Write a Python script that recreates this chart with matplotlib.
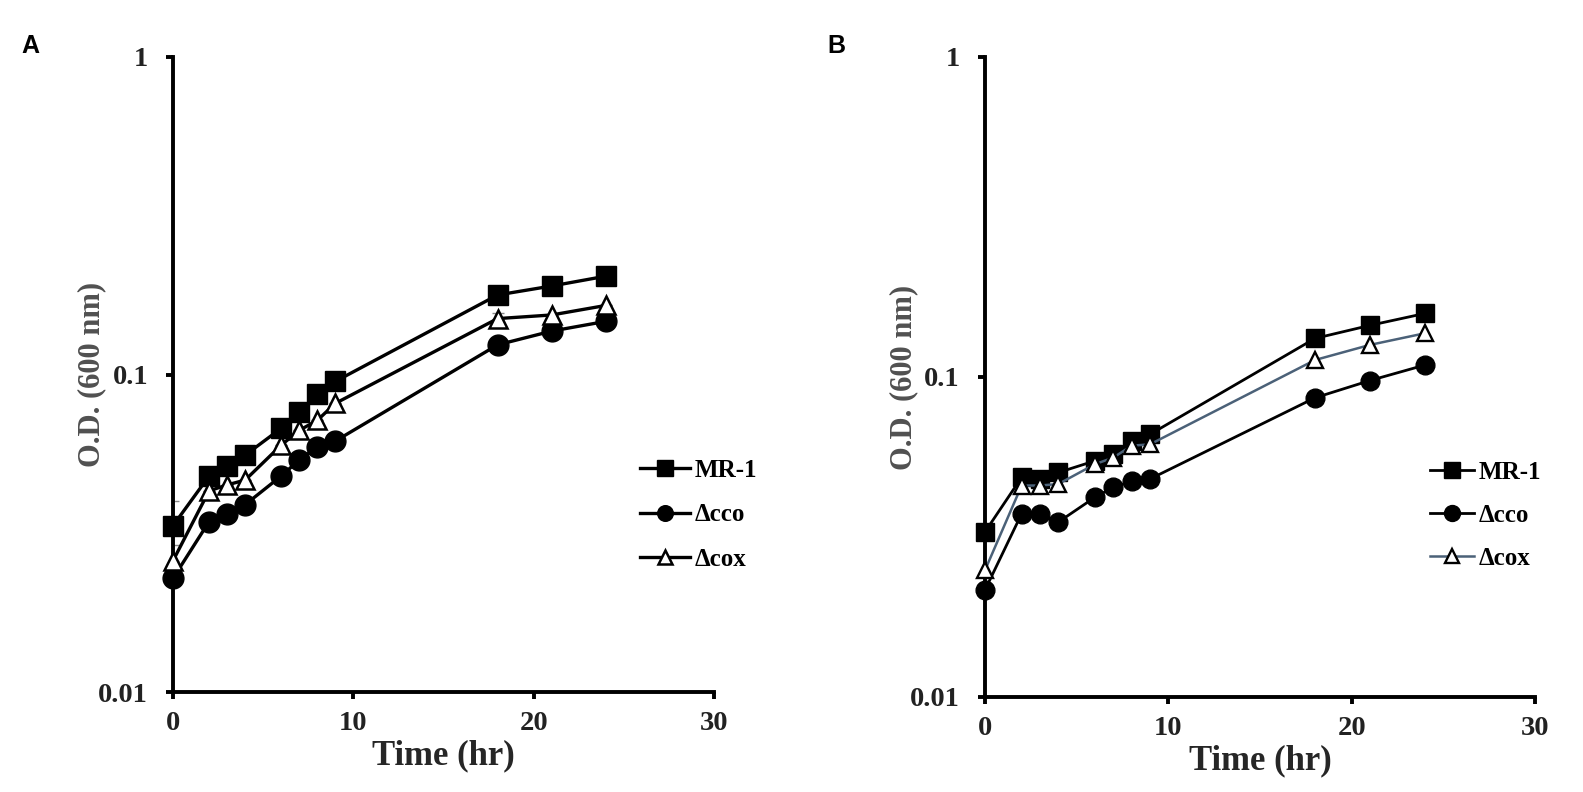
import matplotlib
matplotlib.use("Agg")
import matplotlib.pyplot as plt
from matplotlib.ticker import FixedLocator, FixedFormatter, NullLocator

# ---------------- data ----------------
time_hr = [0, 2, 3, 4, 6, 7, 8, 9, 18, 21, 24]
series_labels = ["MR-1", "\u0394cco", "\u0394cox"]

# Panel A
a_mr1 = [0.0334, 0.0479, 0.0515, 0.0557, 0.0677, 0.0760, 0.0865, 0.0951, 0.178, 0.190, 0.204]
a_cco = [0.0228, 0.0344, 0.0364, 0.0389, 0.0479, 0.0538, 0.0591, 0.0617, 0.124, 0.137, 0.147]
a_cox = [0.0259, 0.0430, 0.0449, 0.0465, 0.0599, 0.0667, 0.0717, 0.0811, 0.150, 0.154, 0.165]
a_mr1_err = [0.0066, 0, 0, 0.004, 0, 0, 0, 0, 0, 0, 0]
a_cox_err = [0.0032, 0, 0, 0, 0, 0, 0, 0, 0.006, 0, 0]

# Panel B
b_mr1 = [0.0328, 0.0486, 0.0480, 0.0503, 0.0547, 0.0574, 0.0631, 0.0662, 0.132, 0.145, 0.158]
b_cco = [0.0216, 0.0374, 0.0372, 0.0352, 0.0421, 0.0452, 0.0472, 0.0480, 0.0861, 0.0975, 0.109]
b_cox = [0.0249, 0.0458, 0.0458, 0.0463, 0.0534, 0.0560, 0.0610, 0.0616, 0.113, 0.126, 0.137]

x_ticks = [0, 10, 20, 30]
x_ticklabels = ["0", "10", "20", "30"]
y_ticks = [0.01, 0.1, 1]
y_ticklabels = ["0.01", "0.1", "1"]

# ---------------- style ----------------
W, H = 1583, 792
fig = plt.figure(figsize=(W / 100, H / 100), dpi=100)
serif = ["Liberation Serif", "DejaVu Serif"]
sans = ["Liberation Sans", "DejaVu Sans"]


def px_axes(x0, x1, ytop, ybot):
    return fig.add_axes([x0 / W, 1 - ybot / H, (x1 - x0) / W, (ybot - ytop) / H])


def style_axes(ax):
    ax.set_yscale("log")
    ax.set_xlim(0, 30)
    ax.set_ylim(0.01, 1)
    for s in ("top", "right"):
        ax.spines[s].set_visible(False)
    for s in ("left", "bottom"):
        ax.spines[s].set_linewidth(2.8)
        ax.spines[s].set_color("black")
    ax.xaxis.set_major_locator(FixedLocator(x_ticks))
    ax.xaxis.set_major_formatter(FixedFormatter(x_ticklabels))
    ax.yaxis.set_major_locator(FixedLocator(y_ticks))
    ax.yaxis.set_major_formatter(FixedFormatter(y_ticklabels))
    ax.yaxis.set_minor_locator(NullLocator())
    ax.tick_params(axis="both", which="major", direction="out", length=5, width=2.8,
                   colors="black", labelcolor="#222222")
    ax.tick_params(axis="y", pad=13)
    ax.tick_params(axis="x", pad=9)
    for lab in ax.get_xticklabels() + ax.get_yticklabels():
        lab.set_family(serif)
        lab.set_fontweight("bold")
        lab.set_fontsize(20.5)
    ax.set_xlabel("Time (hr)", family=serif, fontweight="bold", fontsize=25,
                  color="#262626", labelpad=2)
    ax.set_ylabel("O.D. (600 nm)", family=serif, fontweight="bold", fontsize=22,
                  color="#505050", labelpad=-6)


leg_prop = {"family": serif, "weight": "bold", "size": 18}

# ---------------- Panel A ----------------
axA = px_axes(173, 714, 57, 692)
style_axes(axA)
axA.errorbar(time_hr, a_mr1, yerr=[[0] * len(a_mr1_err), a_mr1_err], fmt="none",
             ecolor="#888888", elinewidth=1.0, capsize=4, capthick=1.0, zorder=1)
axA.errorbar(time_hr, a_cox, yerr=[[0] * len(a_cox_err), a_cox_err], fmt="none",
             ecolor="#888888", elinewidth=1.0, capsize=4, capthick=1.0, zorder=1)
axA.plot(time_hr, a_mr1, color="black", lw=2.4, marker="s", ms=14.5, mfc="black",
         mec="black", label=series_labels[0], zorder=3, clip_on=False)
axA.plot(time_hr, a_cco, color="black", lw=2.4, marker="o", ms=15, mfc="black",
         mec="black", label=series_labels[1], zorder=3, clip_on=False)
axA.plot(time_hr, a_cox, color="black", lw=2.4, marker="^", ms=13, mfc="white",
         mec="black", mew=1.8, label=series_labels[2], zorder=4, clip_on=False)
axA.legend(loc="upper left", bbox_to_anchor=(640 / W, 1 - 459 / H),
           bbox_transform=fig.transFigure, frameon=False, prop=leg_prop,
           handlelength=2.0, handletextpad=0.2, labelspacing=0.85,
           markerscale=0.75, borderaxespad=0, borderpad=0)

# ---------------- Panel B ----------------
axB = px_axes(985, 1535, 57, 697)
style_axes(axB)
axB.plot(time_hr, b_mr1, color="black", lw=2.0, marker="s", ms=13, mfc="black",
         mec="black", label=series_labels[0], zorder=3, clip_on=False)
axB.plot(time_hr, b_cco, color="black", lw=2.0, marker="o", ms=13.5, mfc="black",
         mec="black", label=series_labels[1], zorder=3, clip_on=False)
axB.plot(time_hr, b_cox, color="#4b6178", lw=1.8, marker="^", ms=12, mfc="white",
         mec="black", mew=1.7, label=series_labels[2], zorder=4, clip_on=False)
axB.legend(loc="upper left", bbox_to_anchor=(1430 / W, 1 - 461 / H),
           bbox_transform=fig.transFigure, frameon=False, prop=leg_prop,
           handlelength=1.75, handletextpad=0.2, labelspacing=0.8,
           markerscale=0.85, borderaxespad=0, borderpad=0)

# ---------------- panel letters ----------------
fig.text(30 / W, 1 - 46 / H, "A", family=sans, fontweight="bold", fontsize=18,
         ha="center", va="center")
fig.text(836 / W, 1 - 46 / H, "B", family=sans, fontweight="bold", fontsize=18,
         ha="center", va="center")

fig.savefig("out.png", dpi=100, facecolor="white")
